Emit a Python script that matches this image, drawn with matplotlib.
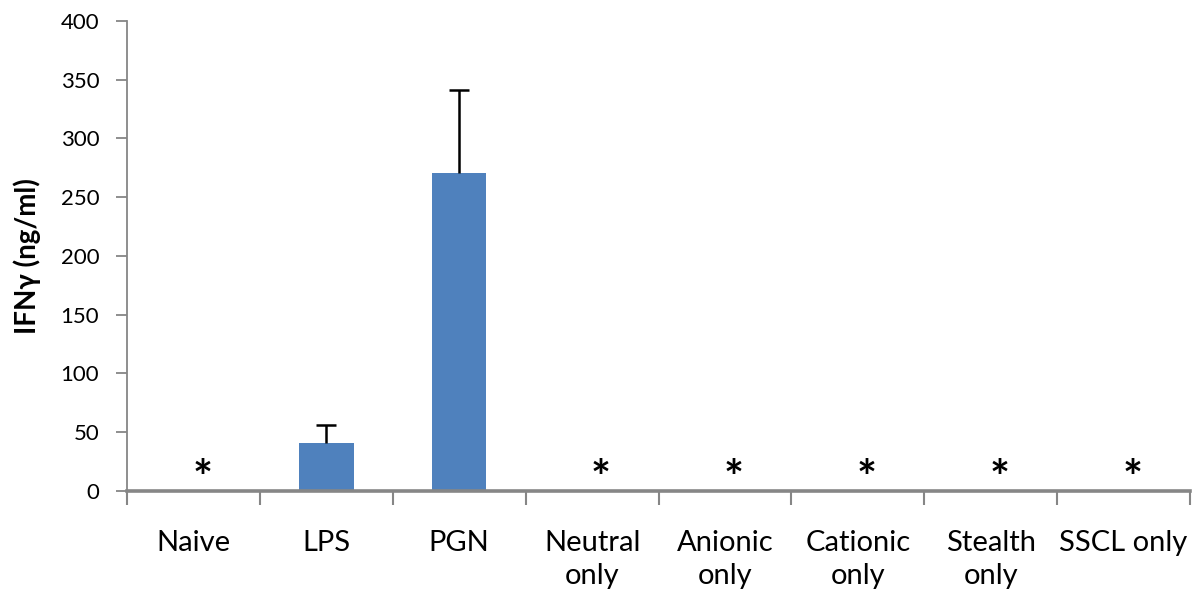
import matplotlib.pyplot as plt
import numpy as np

categories = ['Naive', 'LPS', 'PGN', 'Neutral\nonly', 'Anionic\nonly',
              'Cationic\nonly', 'Stealth\nonly', 'SSCL only']
values = [0, 41, 271, 0, 0, 0, 0, 0]
errors = [0, 15, 70, 0, 0, 0, 0, 0]
significant = [True, False, False, True, True, True, True, True]
y_ticks = [0, 50, 100, 150, 200, 250, 300, 350, 400]

plt.rcParams['font.family'] = ['Lato', 'DejaVu Sans']

fig = plt.figure(figsize=(11.93, 5.96), dpi=100)
ax = fig.add_axes([0.1065, 0.1762, 0.891, 0.7886])

x = np.arange(len(categories))
ax.bar(x, values, width=0.41, color='#4f81bd', zorder=2)

# upper error bars only, no cap at the bar top
for xi, v, e in zip(x, values, errors):
    if e > 0:
        _, caps, _ = ax.errorbar(xi, v, yerr=[[0], [e]], fmt='none',
                                 ecolor='black', elinewidth=1.8, capsize=7,
                                 capthick=1.8, zorder=3)
        caps[0].set_visible(False)

for xi, s in zip(x, significant):
    if s:
        ax.text(xi + 0.065, -2.5, '*', ha='center', va='baseline',
                fontsize=34, fontweight='bold', color='black')

ax.set_xlim(-0.5, len(categories) - 0.5)
ax.set_ylim(0, 400)
ax.set_yticks(y_ticks)
ax.tick_params(axis='y', labelsize=16, length=8, width=1.3, color='#868686',
               direction='out', pad=12)

ax.set_xticks(x)
ax.set_xticklabels(categories, fontsize=21, linespacing=1.35, va='top')
ax.tick_params(axis='x', which='major', length=0, pad=28)
ax.set_xticks(np.arange(-0.5, len(categories)), minor=True)
ax.tick_params(axis='x', which='minor', length=10, width=1.5, color='#868686',
               direction='out')

for side in ['top', 'right']:
    ax.spines[side].set_visible(False)
ax.spines['left'].set_color('#868686')
ax.spines['left'].set_linewidth(1.3)
ax.spines['bottom'].set_color('#868686')
ax.spines['bottom'].set_linewidth(2.6)

ax.set_ylabel('IFNγ (ng/ml)', fontsize=20, fontweight='bold', labelpad=14)

fig.savefig('out.png', dpi=100)
